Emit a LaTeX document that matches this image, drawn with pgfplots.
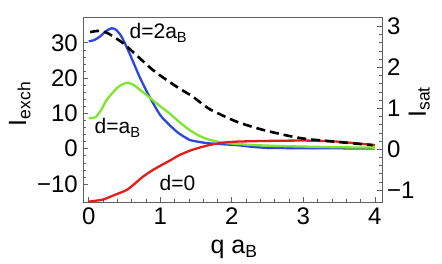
\documentclass[border=0pt]{standalone}
\usepackage{pgfplots}
\pgfplotsset{compat=1.18}
\usepackage{fontspec}
\setmainfont{Liberation Sans}
\definecolor{cblue}{RGB}{45,70,225}
\definecolor{cgreen}{RGB}{125,230,45}
\definecolor{cred}{RGB}{225,30,25}
\definecolor{framec}{RGB}{95,95,95}
\pgfplotsset{
  common/.style={
    scale only axis, width=299pt, height=185pt,
    at={(83pt,62pt)}, anchor=south west,
    xmin=-0.08, xmax=4.1,
    axis line style={framec, line width=0.7pt},
    tick style={framec, line width=0.6pt},
    major tick length=5pt, minor tick length=2.8pt,
    tick align=inside,
    ticklabel style={font=\fontsize{24}{26}\selectfont, text=black},
    yticklabel style={inner sep=5pt},
    xticklabel style={inner sep=6pt},
    /pgf/number format/assume math mode=true,
    label style={font=\fontsize{25}{27}\selectfont},
  }
}
\begin{document}
\begin{tikzpicture}[x=1pt,y=1pt]
\useasboundingbox (0,0) rectangle (442,264);
\begin{axis}[common,
  ymin=-15.1, ymax=37.3,
  xtick={0,1,2,3,4}, xticklabels={0,1,2,3,4},
  minor x tick num=4,
  ytick={-10,0,10,20,30}, yticklabels={−10,0,10,20,30},
  minor y tick num=4,
  xtick pos=lower, ytick pos=left,
  xlabel={q a\textsubscript{B}},
  xlabel style={at={(axis description cs:0.505,-0.281)}, anchor=base},
  ylabel={I\textsubscript{exch}},
  ylabel style={at={(axis description cs:-0.19,0.53)}, anchor=base},
  clip=false,
]
\addplot[cblue, line width=2.3pt, smooth, tension=0.4] coordinates {
(0,30.4) (0.08,30.8) (0.16,31.8) (0.24,33.3) (0.32,34.1) (0.38,33.7)
(0.46,31.7) (0.57,27.0) (0.71,20.4) (0.85,14.7) (1.0,9.5) (1.13,6.7)
(1.25,4.5) (1.41,2.5) (1.55,1.9) (1.69,1.5) (2.07,1.0) (2.3,0.5)
(2.53,0.2) (3.0,0.15) (4.0,0.05)};
\addplot[cgreen, line width=2.3pt, smooth, tension=0.4] coordinates {
(0,8.6) (0.1,9.0) (0.18,11.2) (0.25,13.8) (0.39,17.1) (0.47,18.2)
(0.55,18.7) (0.63,18.0) (0.71,16.8) (0.85,14.5) (1.0,12.0) (1.13,10.0)
(1.27,7.5) (1.41,5.3) (1.55,3.6) (1.69,2.5) (1.88,1.7) (2.1,1.3)
(2.29,1.05) (2.6,0.8) (3.0,0.6) (3.5,0.4) (4.0,0.3)};
\addplot[cred, line width=2.3pt, smooth, tension=0.4] coordinates {
(0,-15.0) (0.2,-14.4) (0.35,-13.2) (0.53,-11.7) (0.65,-9.8) (0.76,-7.9)
(0.9,-6.0) (1.04,-4.4) (1.15,-3.2) (1.27,-1.8) (1.45,-0.3) (1.69,1.05)
(1.88,1.7) (2.07,2.0) (2.5,2.2) (3.0,2.3) (3.4,2.1) (3.7,1.6) (4.0,1.0)};
\node[anchor=west, font=\fontsize{21}{23}\selectfont, inner sep=0pt] at (axis cs:0.57,32.8) {d=2a\textsubscript{B}};
\node[anchor=west, font=\fontsize{21}{23}\selectfont, inner sep=0pt] at (axis cs:0.08,5.9) {d=a\textsubscript{B}};
\node[anchor=west, font=\fontsize{21}{23}\selectfont, inner sep=0pt] at (axis cs:0.99,-9.7) {d=0};
\end{axis}
\begin{axis}[common,
  ymin=-1.29, ymax=3.23,
  axis x line=none, axis y line*=right,
  ytick={-1,0,1,2,3}, yticklabels={−1,0,1,2,3},
  minor y tick num=4,
  ylabel={I\textsubscript{sat}},
  ylabel style={at={(axis description cs:1.147,0.54)}, anchor=base, rotate=0},
  clip=false,
]
\addplot[black, line width=2.6pt, dash pattern=on 9pt off 5pt, smooth, tension=0.4] coordinates {
(0.02,2.86) (0.08,2.88) (0.15,2.89) (0.27,2.83) (0.48,2.59) (0.69,2.26)
(0.90,1.93) (1.09,1.69) (1.27,1.48) (1.45,1.29) (1.69,0.98) (2.07,0.67)
(2.44,0.47) (2.81,0.32) (3.04,0.25) (3.28,0.21) (3.65,0.15) (3.97,0.10)};
\end{axis}
\end{tikzpicture}
\end{document}
